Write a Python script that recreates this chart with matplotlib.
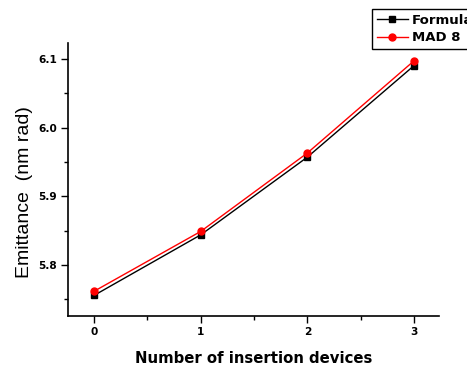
import matplotlib
matplotlib.use("Agg")
import matplotlib.pyplot as plt
from matplotlib.ticker import MultipleLocator

n_devices = [0, 1, 2, 3]
formula = [5.756, 5.844, 5.957, 6.090]
mad8 = [5.762, 5.849, 5.963, 6.097]
x_ticks = [0, 1, 2, 3]
y_ticks = [5.8, 5.9, 6.0, 6.1]

plt.rcParams['font.family'] = ['Liberation Sans', 'DejaVu Sans']

fig = plt.figure(figsize=(4.67, 3.67), dpi=100)
W, H = 467, 367
l, r, b, t = 68, 439, 316, 43
ax = fig.add_axes([l / W, 1 - b / H, (r - l) / W, (b - t) / H])

ax.plot(n_devices, formula, color='black', lw=1.0, marker='s', ms=4.5, mfc='black', mec='black', label='Formula')
ax.plot(n_devices, mad8, color='red', lw=1.0, marker='o', ms=5, mfc='red', mec='red', label='MAD 8')

ax.set_xlim(-0.245, 3.235)
ax.set_ylim(5.726, 6.123)
ax.set_xticks(x_ticks)
ax.set_yticks(y_ticks)
tick_font = {'family': 'DejaVu Sans', 'weight': 'bold', 'size': 7.6}
ax.set_xticklabels([str(v) for v in x_ticks], fontdict=tick_font)
ax.set_yticklabels(['%.1f' % v for v in y_ticks], fontdict=tick_font)
ax.xaxis.set_minor_locator(MultipleLocator(0.5))
ax.yaxis.set_minor_locator(MultipleLocator(0.05))
ax.tick_params(which='major', direction='out', length=5, width=1, pad=3)
ax.tick_params(which='minor', direction='out', length=3, width=1)
for s in ['top', 'right']:
    ax.spines[s].set_visible(False)
for s in ['left', 'bottom']:
    ax.spines[s].set_linewidth(1.2)

ax.set_xlabel('Number of insertion devices', family='DejaVu Sans', fontweight='bold', fontsize=10.7, labelpad=10)
ax.set_ylabel('Emittance  (nm rad)', fontsize=14)
ax.yaxis.set_label_coords(-0.094, 0.454)

leg = ax.legend(loc='upper left', bbox_to_anchor=(372 / W, 1 - 9 / H), bbox_transform=fig.transFigure,
                frameon=True, fancybox=False, edgecolor='black', framealpha=1,
                prop={'family': 'DejaVu Sans', 'weight': 'bold', 'size': 9.5}, handlelength=2.4, handletextpad=0.3,
                borderpad=0.35, labelspacing=0.35, borderaxespad=0)
leg.get_frame().set_linewidth(1.0)

fig.savefig('out.png', dpi=100)
